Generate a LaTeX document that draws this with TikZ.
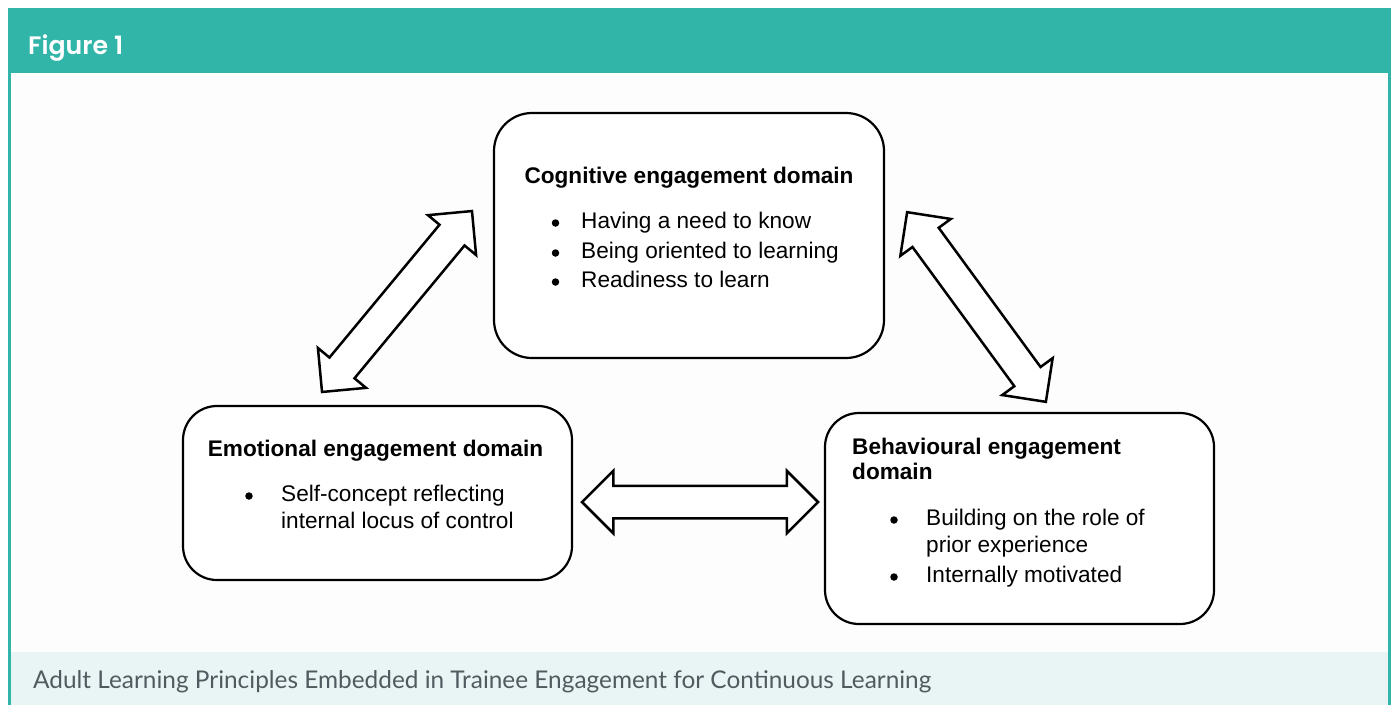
\documentclass[tikz,border=0pt]{standalone}
\usepackage{fontspec}
\setmainfont{Liberation Sans}
\newfontfamily\popfont{Poppins SemiBold}
\newfontfamily\capfont{Lato}
\usetikzlibrary{shapes.arrows}
\definecolor{hdrteal}{HTML}{31B5A8}
\definecolor{bodybg}{HTML}{FDFDFD}
\definecolor{capbg}{HTML}{E9F5F4}
\definecolor{capgray}{HTML}{505B60}
\tikzset{
  box/.style={draw=black, line width=2.2pt, rounded corners=38pt, fill=white, inner sep=0pt},
  bodytext/.style={font=\fontsize{22.6}{29.5}\selectfont, inner sep=0pt, anchor=base west},
  titletext/.style={font=\fontsize{22.6}{29.5}\selectfont\bfseries, inner sep=0pt},
  bulletdot/.style={circle, fill=black, inner sep=0pt, minimum size=7.5pt},
  blockarrow/.style={double arrow, draw=black, line width=2.5pt, fill=white, inner xsep=0pt, inner ysep=15pt, double arrow head extend=15pt, outer sep=0pt}
}
\begin{document}
\begin{tikzpicture}[x=1pt,y=-1pt]
\useasboundingbox (0,0) rectangle (1394,705);
\fill[white] (0,0) rectangle (1394,705);
\fill[bodybg] (8,73) rectangle (1391,705);
\fill[capbg] (8,652) rectangle (1391,705);
\fill[hdrteal] (8,8) rectangle (1391,73);
\fill[hdrteal] (8,73) rectangle (11,705);
\fill[hdrteal] (1388,73) rectangle (1391,705);
\node[anchor=base west, text=white, inner sep=0pt] (fig) at (28,54) {\resizebox{95pt}{!}{\popfont Figure 1}};
\node[anchor=base west, text=capgray, inner sep=0pt] (cap) at (33,688) {\resizebox{898pt}{!}{\capfont Adult Learning Principles Embedded in Trainee Engagement for Continuous Learning}};

% boxes
\node[box, minimum width=390pt, minimum height=245pt] (cog) at (689,235.5) {};
\node[box, minimum width=389pt, minimum height=174pt, rounded corners=34pt] (emo) at (377.5,493) {};
\node[box, minimum width=389pt, minimum height=211pt, rounded corners=34pt] (beh) at (1019.5,518.5) {};

% cognitive text
\node[titletext, anchor=base] (cogt) at (689,183) {Cognitive engagement domain};
\node[bulletdot] (cogb1) at (555.5,223) {};
\node[bulletdot] (cogb2) at (555.5,253) {};
\node[bulletdot] (cogb3) at (555.5,282) {};
\node[bodytext] (cog1) at (581,228) {Having a need to know};
\node[bodytext] (cog2) at (581,258) {Being oriented to learning};
\node[bodytext] (cog3) at (581,287) {Readiness to learn};

% emotional text
\node[titletext, anchor=base] (emot) at (375.5,456) {Emotional engagement domain};
\node[bulletdot] (emob1) at (249,496) {};
\node[bodytext] (emo1) at (281,501) {Self-concept reflecting};
\node[bodytext] (emo2) at (281,528) {internal locus of control};

% behavioural text
\node[titletext, anchor=base west] (beht1) at (852,454) {Behavioural engagement};
\node[titletext, anchor=base west] (beht2) at (852,479) {domain};
\node[bulletdot] (behb1) at (894,520) {};
\node[bulletdot] (behb2) at (894,577) {};
\node[bodytext] (beh1) at (926,525) {Building on the role of};
\node[bodytext] (beh2) at (926,552) {prior experience};
\node[bodytext] (beh3) at (926,582) {Internally motivated};

% block arrows
\coordinate (la) at (322,392);
\coordinate (lb) at (472,211);
\coordinate (ra) at (907,212);
\coordinate (rb) at (1046,402);
\coordinate (ha) at (582,502);
\coordinate (hb) at (818,502);
\path (la) -- (lb) node[midway, sloped, blockarrow, minimum height=235pt] (arrL) {};
\path (ra) -- (rb) node[midway, sloped, blockarrow, minimum height=235pt] (arrR) {};
\path (ha) -- (hb) node[midway, sloped, blockarrow, minimum height=236pt] (arrH) {};
\end{tikzpicture}
\end{document}
